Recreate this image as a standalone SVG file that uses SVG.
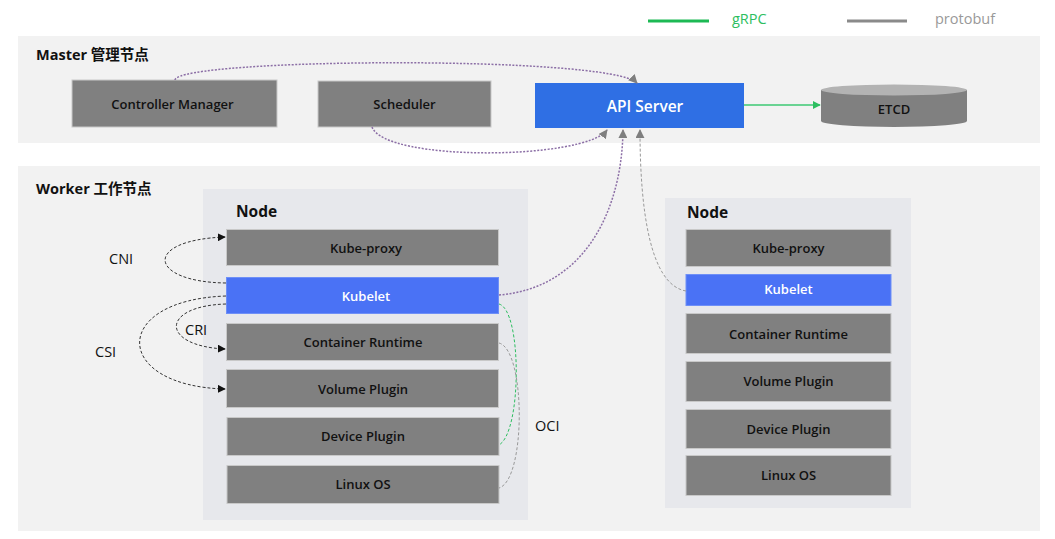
<svg xmlns="http://www.w3.org/2000/svg" width="1055" height="539" viewBox="0 0 1055 539">
<defs>
<style>
.panel{fill:#F2F2F2}
.npanel{fill:#E7E8EC}
.box{fill:#808080;stroke:#C8C8C8;stroke-width:1}
.blue{fill:#4A72F5;stroke:#6E8FF7;stroke-width:1}
.api{fill:#2F6FE4}
.t{font-family:"Open Sans","Liberation Sans",sans-serif;font-weight:600;font-size:13px;fill:#111;text-anchor:middle;dominant-baseline:central}
.tw{fill:#fff}
.big{font-size:15.5px}
.h{font-family:"Open Sans","Noto Sans CJK SC",sans-serif;font-weight:700;font-size:14.5px;fill:#111}
.nd{font-size:15.5px}
.lbl{font-family:"Open Sans","Liberation Sans",sans-serif;font-size:14.5px;fill:#111;dominant-baseline:central}
.pur{fill:none;stroke:#8C6FA6;stroke-width:1.5;stroke-dasharray:2 1.5}
.gdash{fill:none;stroke:#999;stroke-width:1;stroke-dasharray:3 2}
.kdash{fill:none;stroke:#333;stroke-width:1;stroke-dasharray:3 2}
.grn{fill:none;stroke:#2DBE60;stroke-width:1;stroke-dasharray:3 2}
</style>
<marker id="ga" viewBox="0 0 10 10" refX="9" refY="5" markerWidth="9" markerHeight="9" markerUnits="userSpaceOnUse" orient="auto"><path d="M0,0 L10,5 L0,10 z" fill="#7F7F7F"/></marker>
<marker id="ka" viewBox="0 0 10 10" refX="9" refY="5" markerWidth="8" markerHeight="8" markerUnits="userSpaceOnUse" orient="auto"><path d="M0,0 L10,5 L0,10 z" fill="#111"/></marker>
<marker id="gr" viewBox="0 0 10 10" refX="9" refY="5" markerWidth="8" markerHeight="8" markerUnits="userSpaceOnUse" orient="auto"><path d="M0,0 L10,5 L0,10 z" fill="#2DBE60"/></marker>
</defs>
<rect width="1055" height="539" fill="#fff"/>
<g id="legend">
<line x1="648" y1="21" x2="709" y2="21" stroke="#1DB954" stroke-width="3"/>
<text x="732" y="18" font-family="Open Sans,Liberation Sans,sans-serif" font-size="14.5" fill="#2DBE60" dominant-baseline="central">gRPC</text>
<line x1="847" y1="21" x2="907" y2="21" stroke="#8A8A8A" stroke-width="3"/>
<text x="935" y="18" font-family="Open Sans,Liberation Sans,sans-serif" font-size="14.5" fill="#999" dominant-baseline="central">protobuf</text>
</g>
<g id="master">
<rect class="panel" x="18" y="36" width="1022" height="107"/>
<text class="h" x="36" y="60">Master 管理节点</text>
</g>
<g id="worker">
<rect class="panel" x="18" y="166" width="1022" height="365"/>
<text class="h" x="36" y="194">Worker 工作节点</text>
</g>
<g id="node1">
<rect class="npanel" x="203" y="189" width="325" height="331"/>
<text class="h nd" x="236" y="217">Node</text>
</g>
<g id="node2">
<rect class="npanel" x="665" y="198" width="246" height="310"/>
<text class="h nd" x="687" y="218">Node</text>
</g>
<g id="controller-manager"><rect class="box" x="72" y="80" width="205" height="47"/><text class="t" x="172.5" y="103.5">Controller Manager</text></g>
<g id="scheduler"><rect class="box" x="318" y="81" width="173" height="46"/><text class="t" x="404.5" y="104">Scheduler</text></g>
<g id="api-server"><rect class="api" x="535" y="83" width="209" height="45"/><text class="t tw big" x="645" y="105.5">API Server</text></g>
<g id="etcd">
<path d="M821,90 L821,121 A73,6 0 0 0 967,121 L967,90 Z" fill="#808080"/>
<ellipse cx="894" cy="90" rx="73" ry="5.5" fill="#B3B3B3"/>
<text class="t" x="894" y="109">ETCD</text>
</g>
<g id="n1-kube-proxy"><rect class="box" x="226.5" y="229.5" width="272" height="36"/><text class="t" x="366" y="247.5">Kube-proxy</text></g>
<g id="n1-kubelet"><rect class="blue" x="226.5" y="277.5" width="272" height="36"/><text class="t tw" x="366" y="295.5">Kubelet</text></g>
<g id="n1-container-runtime"><rect class="box" x="226.5" y="323.5" width="272" height="37"/><text class="t" x="363" y="342">Container Runtime</text></g>
<g id="n1-volume-plugin"><rect class="box" x="226.5" y="369.5" width="272" height="38"/><text class="t" x="363" y="388.5">Volume Plugin</text></g>
<g id="n1-device-plugin"><rect class="box" x="227" y="417.5" width="272" height="38"/><text class="t" x="363" y="436">Device Plugin</text></g>
<g id="n1-linux-os"><rect class="box" x="227" y="465.5" width="272" height="38"/><text class="t" x="363" y="484">Linux OS</text></g>
<g id="n2-kube-proxy"><rect class="box" x="686" y="229.5" width="205" height="37"/><text class="t" x="788.5" y="248">Kube-proxy</text></g>
<g id="n2-kubelet"><rect class="blue" x="686" y="274.5" width="205" height="31"/><text class="t tw" x="788.5" y="289">Kubelet</text></g>
<g id="n2-container-runtime"><rect class="box" x="686" y="313.5" width="205" height="40"/><text class="t" x="788.5" y="333.5">Container Runtime</text></g>
<g id="n2-volume-plugin"><rect class="box" x="686" y="361.5" width="205" height="40"/><text class="t" x="788.5" y="380.5">Volume Plugin</text></g>
<g id="n2-device-plugin"><rect class="box" x="686" y="409.5" width="205" height="39"/><text class="t" x="788.5" y="429">Device Plugin</text></g>
<g id="n2-linux-os"><rect class="box" x="686" y="455.5" width="205" height="40"/><text class="t" x="788.5" y="475">Linux OS</text></g>
<g id="connectors">
<line x1="744" y1="105" x2="820" y2="105" stroke="#3CC873" stroke-width="1.5" marker-end="url(#gr)"/>
<path class="pur" d="M175,80 C178,58 610,55 637,83" marker-end="url(#ga)"/>
<path class="pur" d="M372,127 C385,162 585,160 607,130" marker-end="url(#ga)"/>
<path class="pur" d="M499,295 C585,288 622,210 623,130" marker-end="url(#ga)"/>
<path class="gdash" d="M686,291 C650,285 640,210 640,130" marker-end="url(#ga)"/>
<path class="kdash" d="M226,283 C148,282 142,240 225,237" marker-end="url(#ka)"/>
<path class="kdash" d="M226,304 C160,306 160,346 225,349" marker-end="url(#ka)"/>
<path class="kdash" d="M226,296 C110,300 112,386 225,389" marker-end="url(#ka)"/>
<path class="grn" d="M499,304 C522,310 522,432 499,445"/>
<path class="gdash" d="M499,343 C526,350 526,480 499,488"/>
<text class="lbl" x="109" y="258">CNI</text>
<text class="lbl" x="185" y="329">CRI</text>
<text class="lbl" x="95" y="351">CSI</text>
<text class="lbl" x="535" y="425">OCI</text>
</g>
</svg>
